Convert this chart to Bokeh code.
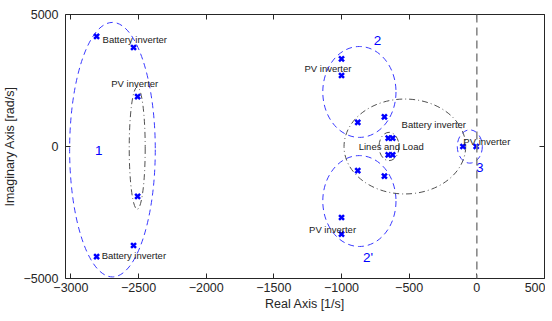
from bokeh.plotting import figure
from bokeh.models import LinearAxis, FixedTicker, Range1d, ColumnDataSource, Span
from bokeh.core.properties import value
from bokeh.embed import file_html
from bokeh.resources import INLINE

# Poles (real, imaginary)
pole_re = [-2810, -2537, -2507, -2507, -2537, -2810,
           -1000, -1000, -1000, -1000,
           -880, -683, -880, -683,
           -655, -622, -655, -622,
           -103, -5]
pole_im = [4170, 3750, 1890, -1890, -3750, -4170,
           3320, 2690, -2690, -3320,
           915, 1120, -915, -1120,
           315, 315, -315, -315,
           0, 0]

# Grouping ellipses
ell_x = [-2693, -868, -868, -52, -2510, -532, -649]
ell_y = [-120, 2066, -2066, 0, -60, 0, 0]
ell_w = [633, 541, 541, 185, 118, 899, 148]
ell_h = [9640, 3443, 3443, 1260, 4630, 3595, 1072]
ell_kind = ["blue", "blue", "blue", "blue", "gray", "gray", "gray"]

# Annotation texts
lab_text = ["Battery inverter", "PV inverter", "Battery inverter", "PV inverter",
            "Battery inverter", "Lines and Load", "PV inverter", "PV inverter"]
lab_x = [-2766, -2702, -2773, -1274, -556, -873, -100, -1240]
lab_y = [4040, 2400, -4120, 2968, 845, 0, 200, -3161]

num_text = ["1", "2", "2'", "3"]
num_x = [-2795, -735, -805, 22]
num_y = [-140, 4030, -4200, -790]

x_ticks = [-3000, -2500, -2000, -1500, -1000, -500, 0, 500]
y_ticks = [-5000, 0, 5000]

FONT = "Liberation Sans"
AXC = "#262626"

p = figure(width=545, height=313, output_backend="svg", toolbar_location=None,
           x_range=Range1d(-3040, 500), y_range=Range1d(-5000, 5000),
           min_border_left=65, min_border_right=1, min_border_top=14, min_border_bottom=35)
p.grid.visible = False
p.outline_line_color = None

def style_axis(ax):
    ax.major_tick_in = 5
    ax.major_tick_out = 0
    ax.minor_tick_line_color = None
    ax.axis_line_color = AXC
    ax.major_tick_line_color = AXC
    ax.axis_line_width = 1
    ax.major_label_text_font = FONT
    ax.major_label_text_font_size = "12.5px"
    ax.major_label_text_color = AXC
    ax.axis_label_text_font = FONT
    ax.axis_label_text_font_size = "12.5px"
    ax.axis_label_text_font_style = "normal"
    ax.axis_label_text_color = AXC

xa = p.xaxis[0]
ya = p.yaxis[0]
xa.ticker = FixedTicker(ticks=x_ticks)
ya.ticker = FixedTicker(ticks=y_ticks)
style_axis(xa)
style_axis(ya)
xa.axis_label = "Real Axis [1/s]"
ya.axis_label = "Imaginary Axis [rad/s]"
xa.major_label_standoff = 4
xa.axis_label_standoff = 2
ya.major_label_standoff = 7
ya.axis_label_standoff = 3

top = LinearAxis(ticker=FixedTicker(ticks=x_ticks))
style_axis(top)
top.major_label_standoff = 0
top.major_label_overrides = {t: "" for t in x_ticks}
p.add_layout(top, "above")
right = LinearAxis(ticker=FixedTicker(ticks=y_ticks))
style_axis(right)
right.major_label_standoff = 0
right.major_label_overrides = {t: "" for t in y_ticks}
p.add_layout(right, "right")

# imaginary axis dashed line
p.add_layout(Span(location=0, dimension="height", line_color="#808080",
                  line_width=1.5, line_dash="8 5"))

blue = dict(x=[], y=[], w=[], h=[])
gray = dict(x=[], y=[], w=[], h=[])
for x, y, w, h, k in zip(ell_x, ell_y, ell_w, ell_h, ell_kind):
    d = blue if k == "blue" else gray
    d["x"].append(x); d["y"].append(y); d["w"].append(w); d["h"].append(h)

p.ellipse(x="x", y="y", width="w", height="h", source=ColumnDataSource(blue),
          fill_alpha=0, line_color="#3a3aff", line_width=1, line_dash="6 4")
p.ellipse(x="x", y="y", width="w", height="h", source=ColumnDataSource(gray),
          fill_alpha=0, line_color="#505050", line_width=1, line_dash="6 3 1 3")

p.scatter(pole_re, pole_im, marker="x", size=7, line_width=2.5, line_color="#0000ff")

p.text(lab_x, lab_y, text=lab_text, text_font=value(FONT), text_font_size="9.5px",
       text_color="#1a1a1a", text_align="left", text_baseline="middle")
p.text(num_x, num_y, text=num_text, text_font=value(FONT), text_font_size="13.5px",
       text_color="#0000ff", text_align="center", text_baseline="middle")

open("out.html", "w").write(file_html(p, INLINE))
